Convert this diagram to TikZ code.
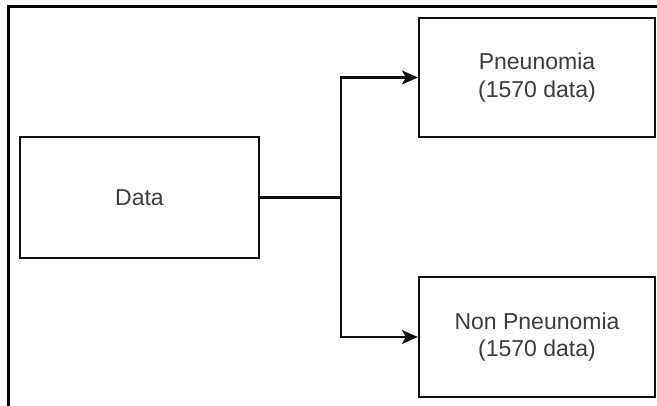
\documentclass[tikz,border=0pt]{standalone}
\usepackage{fontspec}
\setmainfont{Liberation Sans}
\usetikzlibrary{arrows.meta}
\definecolor{txt}{RGB}{60,60,60}
\definecolor{ln}{RGB}{15,15,15}
\begin{document}
\begin{tikzpicture}[x=1pt,y=-1pt,
  boxnode/.style={draw=ln,line width=2.2pt,rectangle,align=center,text=txt,
    font=\fontsize{23}{27.5}\selectfont,inner sep=0pt},
  conn/.style={draw=ln,line width=2.2pt},
  arr/.style={conn,-{Stealth[length=16pt,width=14pt,inset=4pt]}}]
\useasboundingbox (0,0) rectangle (657,405);
\fill[white] (0,0) rectangle (657,405);
% outer frame
\draw[line width=2.6pt,black] (8.5,406) -- (8.5,6.5) -- (658,6.5);
\node[boxnode,minimum width=239pt,minimum height=121pt] (data) at (139.5,197.5) {Data};
\node[boxnode,minimum width=236pt,minimum height=119pt] (pn) at (537,77.5) {Pneunomia\\(1570 data)};
\node[boxnode,minimum width=236pt,minimum height=120pt] (npn) at (537,337) {Non Pneunomia\\(1570 data)};
\coordinate (j) at (341,197.5);
\draw[conn] (data.east) -- (j);
\draw[arr] (j) |- (pn.west);
\draw[arr] (j) |- (npn.west);
\end{tikzpicture}
\end{document}
